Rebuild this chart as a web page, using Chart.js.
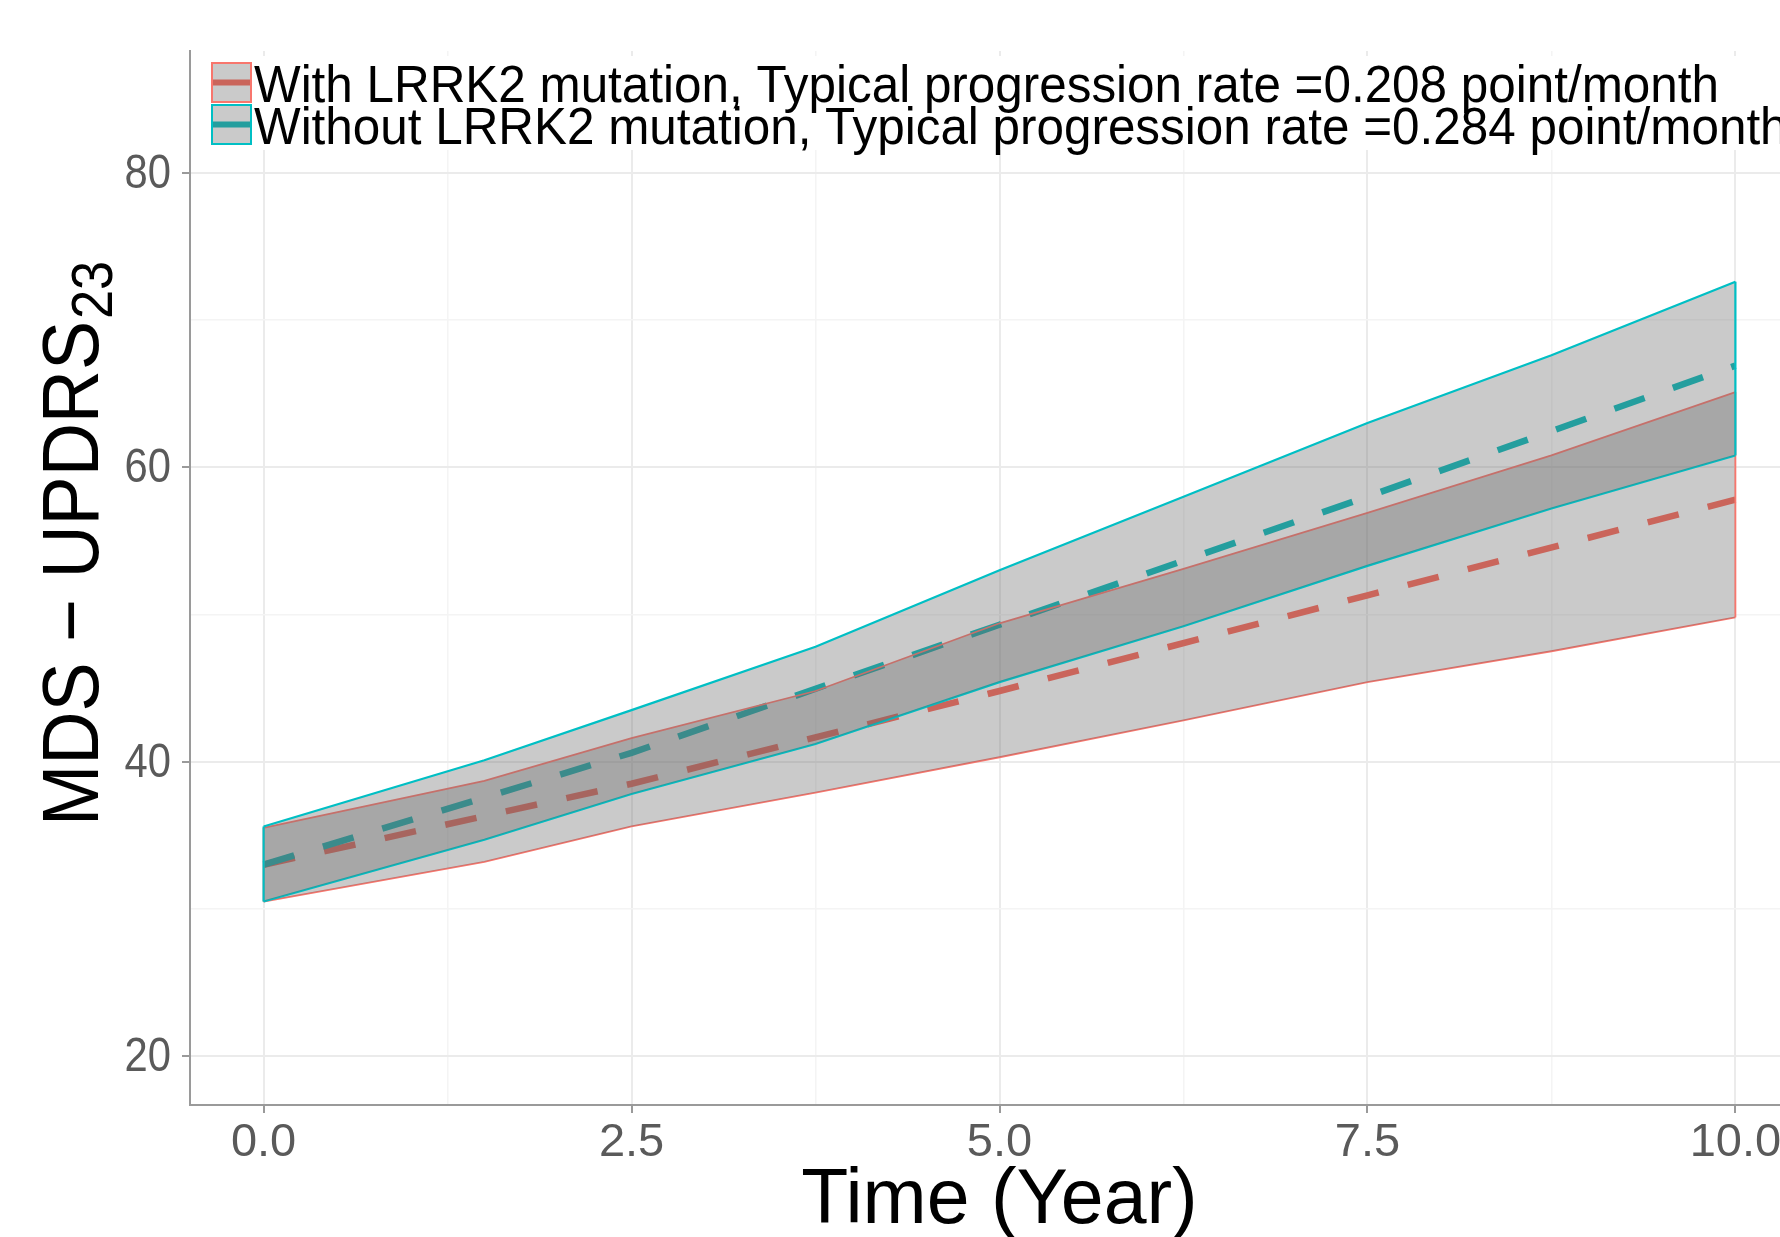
<!DOCTYPE html>
<html>
<head>
<meta charset="utf-8">
<script src="https://cdn.jsdelivr.net/npm/chart.js@4.4.0/dist/chart.umd.min.js"></script>
<style>
  html, body { margin: 0; padding: 0; background: #fff; overflow: hidden; }
  #wrap { width: 1809px; height: 1237px; }
</style>
</head>
<body>
<div id="wrap"><canvas id="progression-chart" width="1809" height="1237"></canvas></div>
<script>
// band edges (years) and ribbon bounds
const bandX = [0, 1.5, 2.5, 3.75, 5, 6.25, 7.5, 8.75, 10];
const withUpper = [35.5, 38.7, 41.6, 44.8, 49.4, 53.1, 56.9, 60.8, 65.1];
const withLower = [30.5, 33.2, 35.6, 37.9, 40.3, 42.8, 45.4, 47.5, 49.8];
const withoutUpper = [35.6, 40.1, 43.5, 47.8, 53.0, 58.0, 63.0, 67.6, 72.6];
const withoutLower = [30.5, 34.7, 37.8, 41.2, 45.4, 49.2, 53.3, 57.2, 60.8];

// typical (median) trajectories
const meanX = [0, 2.5, 5, 7.5, 10];
const withMean = [33.0, 38.5, 44.8, 51.3, 57.8];
const withoutMean = [33.0, 40.6, 49.3, 58.0, 66.9];

const xMajor = [0, 2.5, 5, 7.5, 10];
const xMinor = [1.25, 3.75, 6.25, 8.75];
const xTickLabels = ['0.0', '2.5', '5.0', '7.5', '10.0'];
const yMajor = [20, 40, 60, 80];
const yMinor = [30, 50, 70];
const yTickLabels = ['20', '40', '60', '80'];

const legendLabels = [
  'With LRRK2 mutation, Typical progression rate =0.208 point/month',
  'Without LRRK2 mutation, Typical progression rate =0.284 point/month'
];

const RED = '#F8766D';
const TEAL = '#00BFC4';
const RED_DASH = '#FF6455';
const TEAL_DASH = '#00BCBC';
const RIBBON = 'rgba(102, 102, 102, 0.35)';
const TICK_TEXT = '#5a5a5a';
const FONT = '"Liberation Sans", Arial, sans-serif';

const pts = (xs, ys) => xs.map((x, i) => ({ x: x, y: ys[i] }));
const last = a => a[a.length - 1];

function edge(xv, lo, hi, color, w, order) {
  return {
    data: [{ x: xv, y: lo }, { x: xv, y: hi }],
    borderColor: color, borderWidth: w, pointRadius: 0, fill: false, order: order
  };
}

// legend, y tick labels (condensed) and axis titles (the y title needs a subscript)
const overlay = {
  id: 'overlay',
  afterDraw(chart) {
    const ctx = chart.ctx;
    const yScale = chart.scales.y;

    // legend
    ctx.save();
    ctx.fillStyle = '#fff';
    ctx.fillRect(206, 56, 1603, 94);
    const keys = [
      { color: RED, dash: RED_DASH, top: 62 },
      { color: TEAL, dash: TEAL_DASH, top: 104 }
    ];
    keys.forEach((k, i) => {
      const kx = 211, kw = 41, kh = 41;
      ctx.strokeStyle = k.dash;
      ctx.lineWidth = 6;
      ctx.beginPath();
      ctx.moveTo(kx, k.top + kh / 2);
      ctx.lineTo(kx + kw, k.top + kh / 2);
      ctx.stroke();
      ctx.fillStyle = RIBBON;
      ctx.fillRect(kx, k.top, kw, kh);
      ctx.strokeStyle = k.color;
      ctx.lineWidth = 2;
      ctx.strokeRect(kx + 1, k.top + 1, kw - 2, kh - 2);

      ctx.save();
      ctx.translate(254, k.top + 40);
      ctx.scale(0.95, 1);
      ctx.fillStyle = '#000';
      ctx.font = '52px ' + FONT;
      ctx.textBaseline = 'alphabetic';
      ctx.fillText(legendLabels[i], 0, 0);
      ctx.restore();
    });
    ctx.restore();

    // y tick labels
    yMajor.forEach((v, i) => {
      ctx.save();
      ctx.translate(171, yScale.getPixelForValue(v));
      ctx.scale(0.87, 1);
      ctx.fillStyle = TICK_TEXT;
      ctx.font = '48px ' + FONT;
      ctx.textAlign = 'right';
      ctx.textBaseline = 'middle';
      ctx.fillText(yTickLabels[i], 0, 2);
      ctx.restore();
    });

    // x title
    ctx.save();
    ctx.fillStyle = '#000';
    ctx.font = '77px ' + FONT;
    ctx.textAlign = 'center';
    ctx.textBaseline = 'alphabetic';
    ctx.fillText('Time (Year)', chart.scales.x.getPixelForValue(5), 1223);
    ctx.restore();

    // y title: MDS − UPDRS with subscript 23
    ctx.save();
    ctx.translate(98, 826);
    ctx.rotate(-Math.PI / 2);
    ctx.scale(0.92, 1);
    ctx.fillStyle = '#000';
    ctx.textBaseline = 'alphabetic';
    ctx.font = '80px ' + FONT;
    const main = 'MDS \u2212 UPDRS';
    ctx.fillText(main, 0, 0);
    const w = ctx.measureText(main).width;
    ctx.font = '57px ' + FONT;
    ctx.fillText('23', w + 2, 14);
    ctx.restore();
  }
};

const ctx = document.getElementById('progression-chart');
new Chart(ctx, {
  type: 'line',
  data: {
    datasets: [
      // dashed typical curves (drawn first, the ribbons lie over them)
      { data: pts(meanX, withMean), borderColor: RED_DASH, borderWidth: 6.5, borderDash: [32, 30],
        borderCapStyle: 'butt', pointRadius: 0, fill: false, order: 20 },
      { data: pts(meanX, withoutMean), borderColor: TEAL_DASH, borderWidth: 6.5, borderDash: [32, 30],
        borderCapStyle: 'butt', pointRadius: 0, fill: false, order: 19 },
      // with-mutation ribbon (index 2 = lower)
      { data: pts(bandX, withLower), borderColor: RED, borderWidth: 1.8, pointRadius: 0, fill: false, order: 18 },
      { data: pts(bandX, withUpper), borderColor: RED, borderWidth: 1.8, pointRadius: 0,
        fill: { target: 2 }, backgroundColor: RIBBON, order: 17 },
      edge(0, withLower[0], withUpper[0], RED, 1.8, 16),
      edge(10, last(withLower), last(withUpper), RED, 1.8, 15),
      // without-mutation ribbon (index 6 = lower)
      { data: pts(bandX, withoutLower), borderColor: TEAL, borderWidth: 2.2, pointRadius: 0, fill: false, order: 14 },
      { data: pts(bandX, withoutUpper), borderColor: TEAL, borderWidth: 2.2, pointRadius: 0,
        fill: { target: 6 }, backgroundColor: RIBBON, order: 13 },
      edge(0, withoutLower[0], withoutUpper[0], TEAL, 2.2, 12),
      edge(10, last(withoutLower), last(withoutUpper), TEAL, 2.2, 11)
    ]
  },
  options: {
    responsive: false,
    animation: false,
    layout: { padding: { top: 51, left: 0, right: 0, bottom: 0 } },
    elements: { line: { tension: 0 } },
    plugins: {
      legend: { display: false },
      tooltip: { enabled: false },
      filler: { drawTime: 'beforeDatasetDraw' }
    },
    scales: {
      x: {
        type: 'linear',
        min: -0.5,
        max: 10.5,
        afterBuildTicks: axis => {
          axis.ticks = xMajor.concat(xMinor).sort((a, b) => a - b).map(v => ({ value: v }));
        },
        afterFit: axis => { axis.height = 132; },
        ticks: {
          autoSkip: false,
          maxRotation: 0,
          padding: 2,
          color: TICK_TEXT,
          font: { size: 47, family: FONT },
          callback: v => {
            const i = xMajor.indexOf(v);
            return i >= 0 ? xTickLabels[i] : '';
          }
        },
        grid: {
          color: c => (c.tick && xMajor.includes(c.tick.value)) ? '#ebebeb' : '#f4f4f4',
          lineWidth: c => (c.tick && xMajor.includes(c.tick.value)) ? 2 : 1.5,
          tickColor: c => (c.tick && xMajor.includes(c.tick.value)) ? '#9a9a9a' : 'rgba(0,0,0,0)',
          tickLength: 8,
          tickWidth: 2
        },
        border: { display: true, color: '#9a9a9a', width: 2 }
      },
      y: {
        type: 'linear',
        min: 16.68,
        max: 88.27,
        afterBuildTicks: axis => {
          axis.ticks = yMajor.concat(yMinor).sort((a, b) => a - b).map(v => ({ value: v }));
        },
        afterFit: axis => { axis.width = 190; },
        ticks: { display: false },
        grid: {
          color: c => (c.tick && yMajor.includes(c.tick.value)) ? '#ebebeb' : '#f4f4f4',
          lineWidth: c => (c.tick && yMajor.includes(c.tick.value)) ? 2 : 1.5,
          tickColor: c => (c.tick && yMajor.includes(c.tick.value)) ? '#9a9a9a' : 'rgba(0,0,0,0)',
          tickLength: 8,
          tickWidth: 2
        },
        border: { display: true, color: '#9a9a9a', width: 2 }
      }
    }
  },
  plugins: [overlay]
});
</script>
</body>
</html>
